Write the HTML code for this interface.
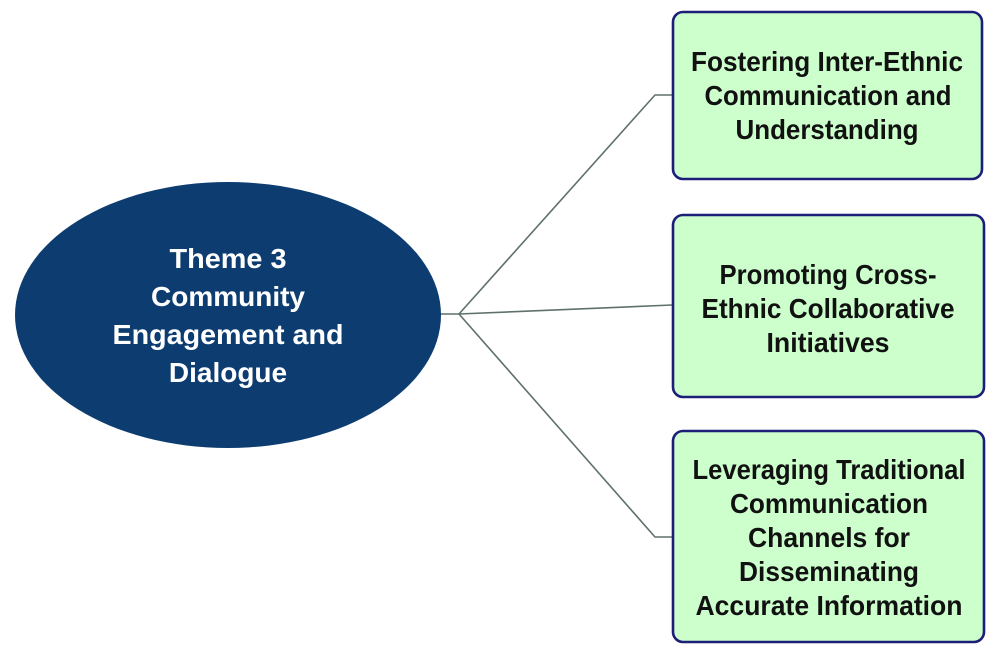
<!DOCTYPE html>
<html>
<head>
<meta charset="utf-8">
<style>
  html, body { margin: 0; padding: 0; background: #ffffff; }
  body { width: 998px; height: 658px; overflow: hidden; }
  svg { display: block; }
  .bt { font-family: "Liberation Sans", sans-serif; font-weight: bold; font-size: 27.5px; fill: #111111; }
  .et { font-family: "Liberation Sans", sans-serif; font-weight: bold; font-size: 28px; fill: #ffffff; }
</style>
</head>
<body>
<svg width="998" height="658" viewBox="0 0 998 658" xmlns="http://www.w3.org/2000/svg">
  <!-- connectors -->
  <g fill="none" stroke="#5f716c" stroke-width="1.6">
    <line x1="440" y1="314" x2="459" y2="314"/>
    <polyline points="459,314 655,95 672,95"/>
    <line x1="459" y1="314" x2="672" y2="305"/>
    <polyline points="459,314 655,537 672,537"/>
  </g>

  <!-- central ellipse -->
  <ellipse cx="228" cy="315" rx="213" ry="133" fill="#0d3d70"/>
  <text class="et" x="228" y="268" text-anchor="middle" textLength="117" lengthAdjust="spacingAndGlyphs">Theme 3</text>
  <text class="et" x="228" y="306" text-anchor="middle">Community</text>
  <text class="et" x="228" y="344" text-anchor="middle" textLength="231" lengthAdjust="spacingAndGlyphs">Engagement and</text>
  <text class="et" x="228" y="382" text-anchor="middle">Dialogue</text>

  <!-- box 1 -->
  <rect x="673" y="12" width="309" height="167" rx="10" ry="10" fill="#ccffcc" stroke="#1c1f78" stroke-width="2.6"/>
  <text class="bt" x="827" y="71" text-anchor="middle" textLength="272" lengthAdjust="spacingAndGlyphs">Fostering Inter-Ethnic</text>
  <text class="bt" x="828" y="105" text-anchor="middle" textLength="247" lengthAdjust="spacingAndGlyphs">Communication and</text>
  <text class="bt" x="827" y="139" text-anchor="middle" textLength="183" lengthAdjust="spacingAndGlyphs">Understanding</text>

  <!-- box 2 -->
  <rect x="673" y="215" width="311" height="182" rx="10" ry="10" fill="#ccffcc" stroke="#1c1f78" stroke-width="2.6"/>
  <text class="bt" x="828" y="284" text-anchor="middle" textLength="217" lengthAdjust="spacingAndGlyphs">Promoting Cross-</text>
  <text class="bt" x="828" y="318" text-anchor="middle" textLength="253" lengthAdjust="spacingAndGlyphs">Ethnic Collaborative</text>
  <text class="bt" x="828" y="352" text-anchor="middle" textLength="123" lengthAdjust="spacingAndGlyphs">Initiatives</text>

  <!-- box 3 -->
  <rect x="673" y="431" width="311" height="211" rx="10" ry="10" fill="#ccffcc" stroke="#1c1f78" stroke-width="2.6"/>
  <text class="bt" x="829" y="479" text-anchor="middle" textLength="273" lengthAdjust="spacingAndGlyphs">Leveraging Traditional</text>
  <text class="bt" x="829" y="513" text-anchor="middle" textLength="198" lengthAdjust="spacingAndGlyphs">Communication</text>
  <text class="bt" x="829" y="547" text-anchor="middle" textLength="162" lengthAdjust="spacingAndGlyphs">Channels for</text>
  <text class="bt" x="829" y="581" text-anchor="middle" textLength="180" lengthAdjust="spacingAndGlyphs">Disseminating</text>
  <text class="bt" x="829" y="615" text-anchor="middle" textLength="267" lengthAdjust="spacingAndGlyphs">Accurate Information</text>
</svg>
</body>
</html>
